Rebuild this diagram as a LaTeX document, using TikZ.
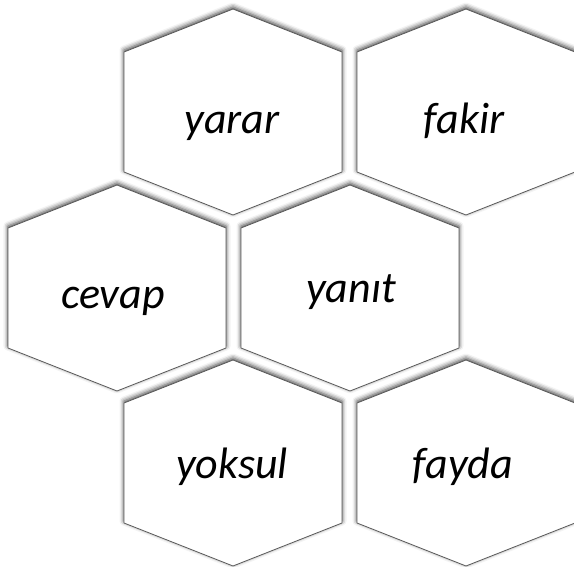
\documentclass[tikz,border=0pt]{standalone}
\usepackage{fontspec}
\setmainfont{Carlito}
\usepackage{tikz}
\usetikzlibrary{shadows.blur}

% one hexagonal cell: name, centre x, centre y, text x, text baseline, text
\newcommand{\hexcell}[6]{%
  \draw[cell] (#2-109,#3-60) -- (#2,#3-103) -- (#2+109,#3-60)
    -- (#2+109,#3+60) -- (#2,#3+103) -- (#2-109,#3+60) -- cycle;
  \node[word] (#1) at (#4,#5) {#6};
}

\begin{document}
\begin{tikzpicture}[
    x=1pt, y=-1pt,
    cell/.style={draw=black!65, line width=0.8pt, fill=white,
      blur shadow={shadow xshift=0pt, shadow yshift=2pt,
        shadow blur radius=4.5pt, shadow opacity=75}},
    word/.style={font=\fontsize{44}{50}\selectfont\itshape, anchor=base, inner sep=0pt}
]
\useasboundingbox (0,0) rectangle (574,566);

% top row
\hexcell{yarar}{233}{112}{232}{133}{yarar}
\hexcell{fakir}{466}{112}{464}{133}{fakir}

% middle row
\hexcell{cevap}{117}{288}{113}{308}{cevap}
\hexcell{yanit}{350}{288}{351}{302}{yanıt}

% bottom row
\hexcell{yoksul}{233}{463}{232}{478}{yoksul}
\hexcell{fayda}{466}{463}{463}{478}{fayda}

\end{tikzpicture}
\end{document}
